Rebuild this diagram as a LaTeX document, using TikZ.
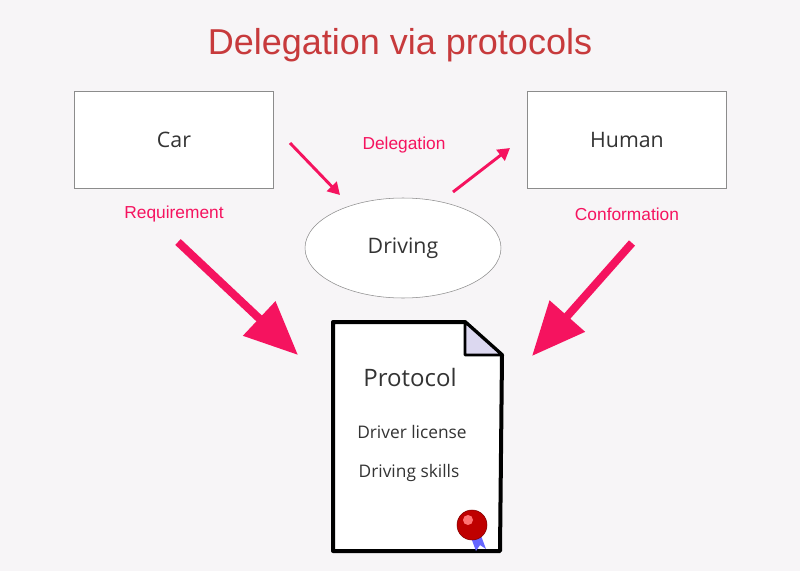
\documentclass[tikz,border=0pt]{standalone}
\usepackage{fontspec}
\setmainfont{Open Sans}
\newfontfamily\titlefont{Liberation Sans}
\usetikzlibrary{positioning,shapes.geometric,arrows.meta}
\definecolor{bg}{HTML}{F7F5F7}
\definecolor{titlered}{HTML}{C73A3C}
\definecolor{pinkish}{HTML}{F5135F}
\definecolor{fold}{HTML}{DCD8F0}
\definecolor{txt}{HTML}{333333}
\tikzset{
  agent/.style={draw=black!45,fill=white,minimum width=149pt,minimum height=73pt,font=\fontsize{16}{18}\selectfont,text=txt},
  role/.style={text=pinkish,font=\titlefont\fontsize{13}{15}\selectfont},
  smallarrow/.style={draw=pinkish,line width=2.2pt,-{Triangle[length=9pt,width=10pt]}},
  bigarrow/.style={draw=pinkish,line width=6pt,-{Triangle[length=40pt,width=34pt]}},
  doctext/.style={text=txt,font=\fontsize{13}{15}\selectfont}
}
\begin{document}
\begin{tikzpicture}[x=0.75pt,y=-0.75pt]
  \fill[bg] (0,0) rectangle (800,571);
  \useasboundingbox (0,0) rectangle (800,571);
  \node[text=titlered,font=\titlefont\fontsize{27}{30}\selectfont] (title) at (400,45) {Delegation via protocols};
  \node[agent] (car) at (174,140) {Car};
  \node[agent] (human) at (627,140) {Human};
  \node[ellipse,draw=black!45,fill=white,minimum width=147pt,minimum height=75pt,font=\fontsize{16}{18}\selectfont,text=txt] (driving) at (403,248) {Driving};
  \node[role] (deleg) at (404,145) {Delegation};
  \node[role] (req) at (174,214) {Requirement};
  \node[role] (conf) at (627,214) {Conformation};
  \coordinate (d1) at (290,143);
  \coordinate (d2) at (340,195);
  \coordinate (d3) at (453,192);
  \coordinate (d4) at (510,148);
  \draw[smallarrow] (d1) -- (d2);
  \draw[smallarrow] (d3) -- (d4);
  % the protocol sheet
  \draw[line width=3pt,fill=white,line join=round] (333,322) -- (465,322) -- (502,355) -- (500,551) -- (333,551) -- cycle;
  \draw[line width=2pt,fill=fold,line join=round] (465,322) -- (465,355) -- (502,355) -- cycle;
  \node[text=txt,font=\fontsize{18}{20}\selectfont] (proto) at (410,377) {Protocol};
  \node[doctext] (lic) at (412,432) {Driver license};
  \node[doctext] (skill) at (409,473) {Driving skills};
  \fill[blue!60] (470,535) -- (476,551) -- (480,545) -- (486,549) -- (480,533) -- cycle;
  \fill[red!75!black,draw=red!50!black] (472,525) circle (15);
  \fill[red!55] (468,520) circle (5);
  \coordinate (r1) at (178,242);
  \coordinate (r2) at (298,355);
  \coordinate (c1) at (632,243);
  \coordinate (c2) at (532,356);
  \draw[bigarrow] (r1) -- (r2);
  \draw[bigarrow] (c1) -- (c2);
\end{tikzpicture}
\end{document}
